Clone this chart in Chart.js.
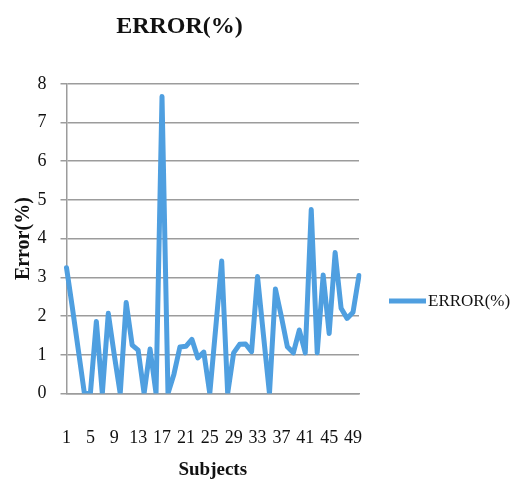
<!DOCTYPE html>
<html>
<head>
<meta charset="utf-8">
<script src="https://cdn.jsdelivr.net/npm/chart.js@4/dist/chart.umd.min.js"></script>
<style>
  html, body { margin: 0; padding: 0; background: #ffffff; }
  #wrap { width: 519px; height: 485px; position: relative; }
</style>
</head>
<body>
<div id="wrap"><canvas id="c" width="519" height="485"></canvas></div>
<script>
// ---- data ----
const subjects = Array.from({length: 50}, (_, i) => String(i + 1));
const errorValues = [
  3.25, 2.2, 1.1, 0, 0, 1.86, 0, 2.07, 1.0, 0,
  2.35, 1.25, 1.12, 0, 1.15, 0, 7.67, 0, 0.5, 1.2,
  1.22, 1.4, 0.92, 1.07, 0, 1.7, 3.42, 0, 1.05, 1.27,
  1.28, 1.08, 3.02, 1.5, 0, 2.7, 1.98, 1.21, 1.05, 1.64,
  1.05, 4.75, 1.05, 3.06, 1.55, 3.64, 2.2, 1.94, 2.1, 3.05
];
const yTicks = [0, 1, 2, 3, 4, 5, 6, 7, 8];
const seriesName = 'ERROR(%)';
const chartTitle = 'ERROR(%)';
const xTitle = 'Subjects';
const yTitle = 'Error(%)';

const lineColor = '#4f9fe0';
const gridColor = '#9c9c9c';
const serif = "'Liberation Serif', 'Times New Roman', serif";

const legendPlugin = {
  id: 'sideLegend',
  afterDraw(chart) {
    const ctx = chart.ctx;
    const ds = chart.data.datasets[0];
    ctx.save();
    ctx.strokeStyle = ds.borderColor;
    ctx.lineWidth = 5;
    ctx.beginPath();
    ctx.moveTo(389, 301);
    ctx.lineTo(426, 301);
    ctx.stroke();
    ctx.fillStyle = '#111';
    ctx.font = "17px " + serif;
    ctx.textBaseline = 'middle';
    ctx.textAlign = 'left';
    ctx.fillText(ds.label, 428, 302);
    ctx.restore();
  }
};

new Chart(document.getElementById('c'), {
  type: 'line',
  data: {
    labels: subjects,
    datasets: [{
      label: seriesName,
      data: errorValues,
      borderColor: lineColor,
      backgroundColor: lineColor,
      borderWidth: 5,
      borderJoinStyle: 'round',
      borderCapStyle: 'round',
      pointRadius: 0,
      tension: 0,
      fill: false
    }]
  },
  options: {
    responsive: false,
    animation: false,
    devicePixelRatio: 1,
    layout: { padding: { left: 0, right: 160, top: 0, bottom: 0 } },
    plugins: {
      legend: { display: false },
      tooltip: { enabled: false },
      title: {
        display: true,
        text: chartTitle,
        color: '#111',
        font: { family: serif, size: 24, weight: 'bold' },
        padding: { top: 12, bottom: 43 }
      }
    },
    scales: {
      x: {
        type: 'category',
        offset: false,
        grid: { display: false, drawTicks: false },
        border: { display: true, color: gridColor, width: 1.5 },
        ticks: {
          autoSkip: false,
          maxRotation: 0,
          minRotation: 0,
          padding: 34,
          color: '#111',
          font: { family: serif, size: 18 },
          callback: function(v, i) { return i % 4 === 0 ? this.getLabelForValue(v) : ''; }
        },
        title: {
          display: true,
          text: xTitle,
          color: '#111',
          font: { family: serif, size: 19, weight: 'bold' },
          padding: { top: 0, bottom: 4 }
        },
        afterFit(scale) { scale.height = 91.5; }
      },
      y: {
        min: 0,
        max: 8,
        afterBuildTicks(scale) { scale.ticks = yTicks.map(v => ({ value: v })); },
        grid: {
          color: gridColor,
          lineWidth: 1.5,
          drawTicks: true,
          tickLength: 6,
          tickColor: gridColor
        },
        border: { display: true, color: gridColor, width: 1.5 },
        ticks: {
          padding: 14,
          color: '#111',
          font: { family: serif, size: 18 }
        },
        title: {
          display: true,
          text: yTitle,
          color: '#111',
          font: { family: serif, size: 20, weight: 'bold' },
          padding: { top: 12, bottom: 0 }
        },
        afterFit(scale) { scale.width = 66.5; }
      }
    }
  },
  plugins: [legendPlugin]
});
</script>
</body>
</html>
